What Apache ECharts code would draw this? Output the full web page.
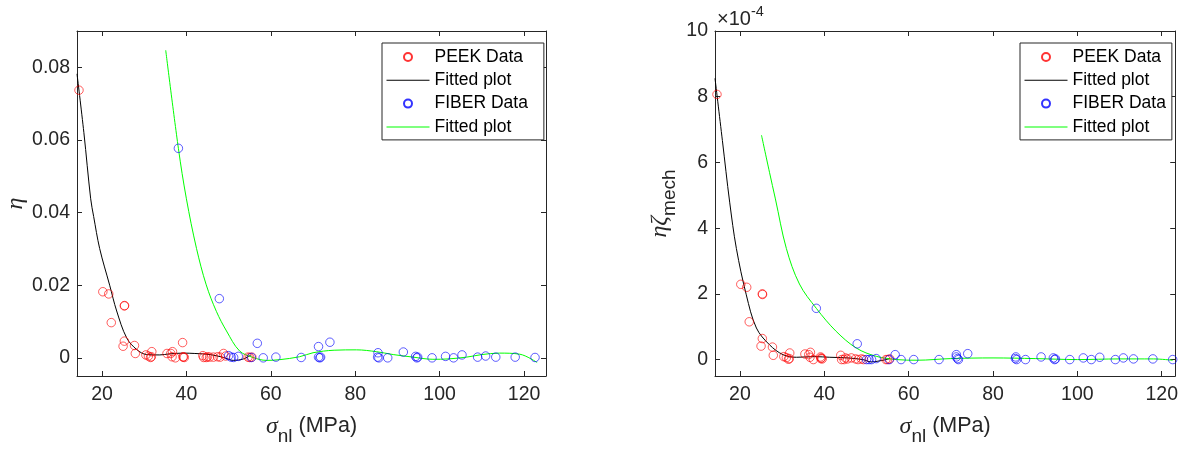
<!DOCTYPE html>
<html><head><meta charset="utf-8">
<script src="https://cdn.jsdelivr.net/npm/echarts@6/dist/echarts.min.js"></script>
<style>html,body{margin:0;padding:0;background:#fff}#c{width:1181px;height:451px}</style>
</head><body><div id="c"></div>
<script>
// ---------- tick labels ----------
const xTicks = [20, 40, 60, 80, 100, 120];
const etaTicks = [0, 0.02, 0.04, 0.06, 0.08];
const etaZetaTicks = [0, 2e-4, 4e-4, 6e-4, 8e-4, 10e-4];

// ---------- PEEK data ----------
const peekX = [14.55, 20.2, 21.6, 22.2, 25.3, 25.35, 25.3, 25.0, 27.7, 27.9, 30.4, 31.0, 31.5, 31.8, 31.7,
  35.4, 36.3, 36.7, 36.6, 37.4, 39.1, 39.2, 39.5, 39.3, 43.9, 44.1, 44.7, 45.0, 45.5, 46.4, 47.4, 48.0, 48.8, 49.3,
  54.6, 55.0, 55.5];
const peekEta = [0.0737, 0.0182, 0.0176, 0.0097, 0.0143, 0.0144, 0.0046, 0.0032, 0.0034, 0.0012, 0.0008, 0.0005, 0.0001, 0.0017, 0.0003,
  0.0012, 0.0012, 0.0017, 0.0003, 0.0000, 0.0042, 0.0002, 0.0001, 0.0003, 0.0006, 0.0001, 0.0001, 0.0003, 0.0002, 0.0002, 0.0003, 0.0002, 0.0012, 0.0005,
  0.0002, 0.0001, 0.0002];
const peekEtaZeta = [8.07e-4, 2.29e-4, 2.20e-4, 1.15e-4, 2.00e-4, 1.98e-4, 0.64e-4, 0.41e-4, 0.38e-4, 0.13e-4, 0.09e-4, 0.06e-4, 0.01e-4, 0.20e-4, 0.03e-4,
  0.17e-4, 0.15e-4, 0.22e-4, 0.07e-4, 0.00, 0.08e-4, 0.03e-4, 0.02e-4, 0.05e-4, 0.13e-4, 0.00, 0.00, 0.05e-4, 0.02e-4, 0.05e-4, 0.02e-4, 0.00, 0.02e-4, 0.00,
  0.00, 0.00, 0.02e-4];

// ---------- FIBER data ----------
const fiberX = [38.1, 47.8, 50.0, 50.6, 51.2, 52.3, 55.4, 56.8, 58.2, 61.2, 67.2, 71.3, 71.3, 71.6, 71.8, 74.0,
  85.4, 85.3, 85.6, 87.7, 91.4, 94.3, 94.6, 94.8, 98.2, 101.4, 103.3, 105.3, 109.0, 110.9, 113.3, 117.9, 122.6];
const fiberEta = [0.0577, 0.0163, 0.0006, 0.0002, 0.0001, 0.0004, 0.0001, 0.0040, 0.0000, 0.0002, 0.0001, 0.0031, 0.0002, 0.0000, 0.0002, 0.0043,
  0.0014, 0.0002, 0.0000, 0.0000, 0.0016, 0.0004, 0.0000, 0.0002, 0.0000, 0.0004, 0.0000, 0.0008, 0.0002, 0.0005, 0.0002, 0.0002, 0.0001];
const fiberEtaZeta = [1.56e-4, 0.48e-4, 0.00, 0.00, 0.00, 0.03e-4, 0.00, 0.15e-4, 0.00, 0.00, 0.00, 0.15e-4, 0.08e-4, 0.03e-4, 0.00, 0.18e-4,
  0.08e-4, 0.03e-4, 0.00, 0.00, 0.08e-4, 0.05e-4, 0.00, 0.02e-4, 0.00, 0.05e-4, 0.00, 0.07e-4, 0.00, 0.05e-4, 0.02e-4, 0.02e-4, 0.00];

// ---------- fitted curves ----------
const peekFitEtaX = [14.08, 15.71, 17.32, 18.03, 19.45, 21.82, 23.48, 25.85, 28.22, 30.59, 33.7, 36.0, 39.3, 42.0, 45.6, 48.8, 51.1, 53.5, 55.3];
const peekFitEtaY = [0.0782, 0.0620, 0.0438, 0.0389, 0.0301, 0.0200, 0.0129, 0.0055, 0.0023, 0.0009, 0.0008, 0.0011, 0.0013, 0.0012, 0.0009, 0.0001, -0.0007, -0.0003, 0.0008];
const fiberFitEtaX = [35.1, 38.1, 40.0, 42.4, 44.7, 47.1, 49.5, 52.6, 55.8, 59.0, 62.1, 66.8, 70.0, 75.0, 80.3, 85.0, 89.0, 93.7, 98.4, 102.0, 106.4, 110.0, 114.2, 119.0, 123.1];
const fiberFitEtaY = [0.0847, 0.0577, 0.0438, 0.0301, 0.0201, 0.0128, 0.0074, 0.0019, 0.0001, -0.0007, -0.0005, 0.0003, 0.0014, 0.0021, 0.0022, 0.0017, 0.0009, 0.0002, -0.0004, -0.0003, 0.0002, 0.0009, 0.0013, 0.0010, -0.0013];
const peekFitEzX = [14.08, 15.83, 17.56, 19.15, 21.5, 23.9, 27.0, 30.2, 33.4, 37.7, 41.3, 45.6, 49.1, 51.1, 54.3, 55.5];
const peekFitEzY = [8.56e-4, 6.67e-4, 4.79e-4, 3.38e-4, 1.97e-4, 0.96e-4, 0.45e-4, 0.15e-4, 0.07e-4, 0.09e-4, 0.07e-4, 0.05e-4, 0.0, -0.07e-4, -0.01e-4, 0.03e-4];
const fiberFitEzX = [25.1, 27.0, 28.4, 31.0, 34.1, 38.1, 42.8, 47.6, 52.3, 57.1, 62.0, 70.0, 80.0, 90.0, 100.0, 110.0, 118.0, 122.6];
const fiberFitEzY = [6.83e-4, 5.70e-4, 4.89e-4, 3.38e-4, 2.30e-4, 1.56e-4, 0.86e-4, 0.35e-4, 0.10e-4, 0.0, -0.02e-4, 0.03e-4, 0.05e-4, 0.03e-4, 0.0, 0.02e-4, 0.02e-4, -0.02e-4];

const zip = (xs, ys) => xs.map((x, i) => [x, ys[i]]);

const AX = '#262626';
const FONT = '"Liberation Sans", Arial, Helvetica, sans-serif';
const GREEK = '"Liberation Serif", "DejaVu Serif", serif';
const TICK_FS = 19.5;
const LABEL_RICH = {
  g: { fontFamily: GREEK, fontStyle: 'italic', fontSize: 24, lineHeight: 39, color: AX },
  sub: { fontFamily: FONT, fontSize: 19, lineHeight: 19, verticalAlign: 'bottom', color: AX },
  t: { fontFamily: FONT, fontSize: 21.5, lineHeight: 39, color: AX }
};

function xAxisDef(grid, max, top) {
  return {
    type: 'value', gridIndex: grid, position: top ? 'top' : 'bottom',
    min: 14.08, max: max,
    axisLine: { show: true, onZero: false, lineStyle: { color: AX, width: 1 } },
    axisTick: { show: true, inside: true, length: 5, customValues: xTicks, lineStyle: { color: AX } },
    axisLabel: { show: !top, customValues: xTicks, margin: 9, color: AX, fontSize: TICK_FS, fontFamily: FONT },
    splitLine: { show: false },
    name: top ? '' : '{g|σ}{sub|nl}{t| (MPa)}',
    nameLocation: 'middle', nameGap: 31,
    nameTextStyle: { rich: LABEL_RICH }
  };
}
function yAxisDef(grid, min, max, ticks, right, name, gap, fmt) {
  return {
    type: 'value', gridIndex: grid, position: right ? 'right' : 'left',
    min: min, max: max,
    axisLine: { show: true, onZero: false, lineStyle: { color: AX, width: 1 } },
    axisTick: { show: true, inside: true, length: 5, customValues: ticks, lineStyle: { color: AX } },
    axisLabel: { show: !right, customValues: ticks, margin: 7, color: AX, fontSize: TICK_FS, fontFamily: FONT, formatter: fmt },
    splitLine: { show: false },
    name: right ? '' : name,
    nameLocation: 'middle', nameGap: gap,
    nameTextStyle: { rich: LABEL_RICH }
  };
}

const LINE_ICON = 'path://M0,0L43,0L43,1L0,1Z';
const legendItems = [
  { name: 'PEEK Data' },
  { name: 'Fitted plot (PEEK)', icon: LINE_ICON },
  { name: 'FIBER Data' },
  { name: 'Fitted plot (FIBER)', icon: LINE_ICON }
];
function legendDef(left, padRight, textGap) {
  return {
    orient: 'vertical', left: left, top: 43,
    data: legendItems, selectedMode: false,
    itemWidth: 43, itemHeight: 8, itemGap: 3.3, itemTextGap: textGap,
    padding: [4, padRight, 3, 4.5],
    borderColor: AX, borderWidth: 1, backgroundColor: '#fff',
    textStyle: { fontFamily: FONT, fontSize: 17.5, lineHeight: 20, color: '#000' },
    formatter: n => n.indexOf('Fitted') === 0 ? 'Fitted plot' : n
  };
}

function scatter(name, xi, yi, data, color) {
  return {
    type: 'scatter', name: name, xAxisIndex: xi, yAxisIndex: yi, data: data,
    symbol: 'circle', symbolSize: 8.5,
    itemStyle: { color: 'rgba(0,0,0,0)', borderColor: color, borderWidth: 0.8 },
    z: 3
  };
}
function line(name, xi, yi, data, color) {
  return {
    type: 'line', name: name, xAxisIndex: xi, yAxisIndex: yi, data: data,
    symbol: 'none', showSymbol: false, smooth: 0.35,
    lineStyle: { color: color, width: 1 }, itemStyle: { color: color },
    z: 2
  };
}

const chart = echarts.init(document.getElementById('c'), null, { renderer: 'canvas' });
chart.setOption({
  animation: false,
  backgroundColor: '#fff',
  grid: [
    { left: 77, top: 31, width: 469, height: 347 },
    { left: 715, top: 31, width: 461, height: 347 }
  ],
  xAxis: [
    xAxisDef(0, 125.2, false), xAxisDef(0, 125.2, true),
    xAxisDef(1, 123.2, false), xAxisDef(1, 123.2, true)
  ],
  yAxis: [
    yAxisDef(0, -0.005, 0.09, etaTicks, false, '{g|η}', 39, v => String(v)),
    yAxisDef(0, -0.005, 0.09, etaTicks, true, '', 0, null),
    yAxisDef(1, -0.5e-4, 10e-4, etaZetaTicks, false, '{g|ηζ}{sub|mech}', 36, v => String(Math.round(v * 1e4))),
    yAxisDef(1, -0.5e-4, 10e-4, etaZetaTicks, true, '', 0, null)
  ],
  legend: [legendDef(382, 16, 4), legendDef(1020, 6, 3.3)],
  graphic: [{
    type: 'text', left: 717, top: 4,
    style: {
      text: '{a|×10}{b|-4}',
      rich: {
        a: { fontFamily: FONT, fontSize: 20, lineHeight: 30, fill: AX },
        b: { fontFamily: FONT, fontSize: 14.5, lineHeight: 14, verticalAlign: 'top', fill: AX }
      }
    }
  }],
  series: [
    scatter('PEEK Data', 0, 0, zip(peekX, peekEta), '#ff0000'),
    line('Fitted plot (PEEK)', 0, 0, zip(peekFitEtaX, peekFitEtaY), '#000000'),
    scatter('FIBER Data', 0, 0, zip(fiberX, fiberEta), '#0000ff'),
    line('Fitted plot (FIBER)', 0, 0, zip(fiberFitEtaX, fiberFitEtaY), '#00ff00'),
    scatter('PEEK Data', 2, 2, zip(peekX, peekEtaZeta), '#ff0000'),
    line('Fitted plot (PEEK)', 2, 2, zip(peekFitEzX, peekFitEzY), '#000000'),
    scatter('FIBER Data', 2, 2, zip(fiberX, fiberEtaZeta), '#0000ff'),
    line('Fitted plot (FIBER)', 2, 2, zip(fiberFitEzX, fiberFitEzY), '#00ff00')
  ]
});
</script></body></html>
